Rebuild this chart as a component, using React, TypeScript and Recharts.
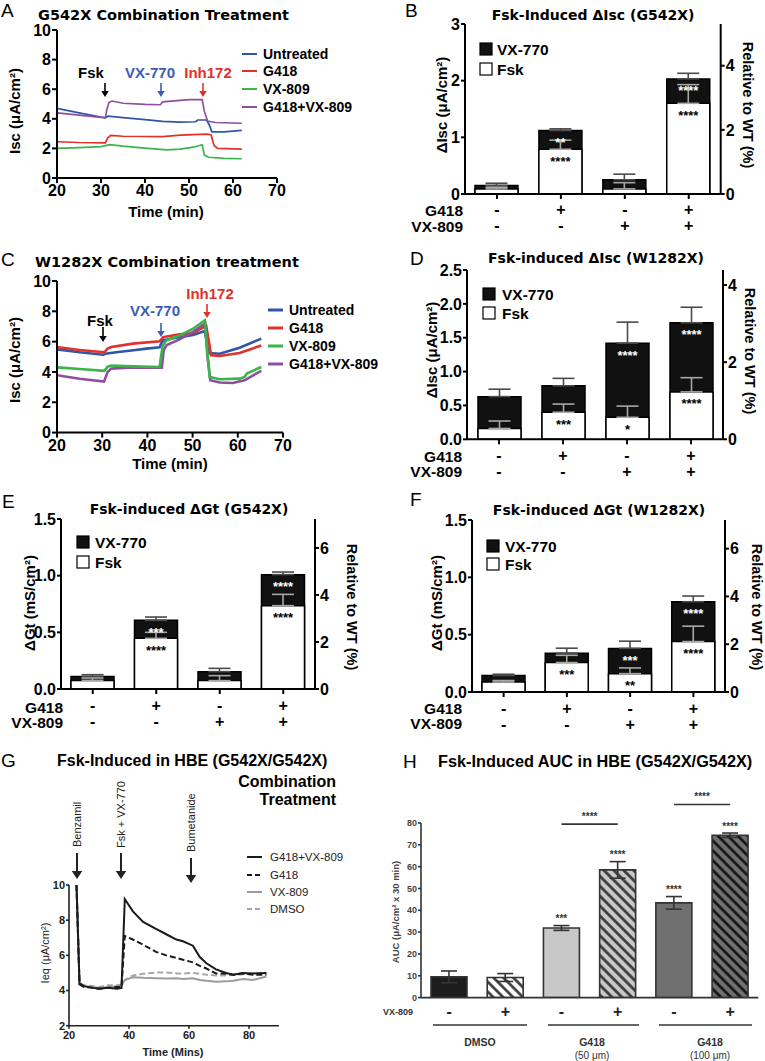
import React from 'react';
import {
  LineChart, Line, BarChart, Bar, XAxis, YAxis, ErrorBar, LabelList, Cell, ReferenceLine,
} from 'recharts';

const FONT = '"Liberation Sans", Arial, Helvetica, sans-serif';
const HEAVY = '"DejaVu Sans", Verdana, sans-serif';

const BLUE = '#2f56a9';
const RED = '#e2302b';
const GREEN = '#3bb44a';
const PURPLE = '#8e4f9e';

// ─── A: G542X combination treatment (Isc traces) ─────────────────────────────
const aUntreatedT = [20, 25, 30, 31, 31.6, 35, 40, 44, 48, 51.5, 52, 54, 54.6, 55.2, 58, 62];
const aUntreatedY = [4.7, 4.4, 4.12, 4.08, 4.18, 4.08, 3.95, 3.82, 3.78, 3.8, 3.92, 3.92, 3.6, 3.12, 3.12, 3.22];
const aG418T = [20, 25, 31, 31.5, 32.2, 35, 44, 48, 54, 55, 55.7, 56.5, 62];
const aG418Y = [2.45, 2.4, 2.38, 2.7, 2.88, 2.82, 2.8, 2.9, 2.97, 2.92, 2.2, 2.0, 1.95];
const aVx809T = [20, 25, 30, 32, 35, 40, 45, 48, 51, 53, 53.5, 54.5, 58, 62];
const aVx809Y = [2.0, 2.05, 2.12, 2.25, 2.15, 2.02, 1.9, 1.95, 2.08, 2.25, 1.55, 1.4, 1.32, 1.3];
const aComboT = [20, 25, 30, 31, 31.3, 31.8, 32.5, 35, 40, 43.5, 44, 46, 50, 53, 53.5, 54.2, 56, 62];
const aComboY = [4.4, 4.25, 4.1, 4.05, 4.6, 5.1, 5.2, 5.05, 4.97, 4.95, 5.15, 5.2, 5.3, 5.3, 4.5, 3.85, 3.75, 3.7];

// ─── C: W1282X combination treatment (Isc traces) ────────────────────────────
const cUntreatedT = [20, 25, 30.2, 30.7, 33.1, 36.5, 39.8, 42.7, 43.1, 43.5, 46.4, 50.1, 52.7, 53.1, 53.5, 56, 60.4, 65.2];
const cUntreatedY = [5.49, 5.3, 5.14, 5.2, 5.3, 5.42, 5.54, 5.63, 5.9, 6.1, 6.26, 6.44, 6.7, 6.0, 5.25, 5.2, 5.6, 6.2];
const cG418T = [20, 25, 30.5, 31.2, 32, 36.8, 42.7, 43.5, 47.1, 50.1, 51.8, 53, 53.5, 54.1, 56, 60.4, 65.2];
const cG418Y = [5.65, 5.45, 5.3, 5.55, 5.65, 5.87, 6.02, 6.3, 6.48, 6.55, 6.85, 7.05, 6.2, 5.1, 5.05, 5.25, 5.75];
const cVx809T = [20, 25, 30.5, 31.2, 32, 36.8, 42.7, 43.0, 43.4, 44.2, 47.1, 50.1, 52.7, 53.2, 53.8, 56, 60.4, 61.5, 62, 65.2];
const cVx809Y = [4.3, 4.2, 4.07, 4.35, 4.43, 4.37, 4.33, 5.0, 5.75, 6.08, 6.4, 6.85, 7.4, 5.5, 3.67, 3.52, 3.56, 3.67, 3.9, 4.33];
const cComboT = [20, 25, 30.4, 31.2, 32, 36.8, 43.2, 43.6, 44.2, 47.1, 50.1, 52.8, 53.3, 53.9, 56, 58.9, 61.5, 63.4, 65.2];
const cComboY = [3.78, 3.55, 3.36, 4.0, 4.22, 4.29, 4.28, 5.43, 5.76, 6.15, 6.64, 7.2, 5.0, 3.45, 3.3, 3.27, 3.45, 3.78, 4.07];

// ─── G: HBE traces (Ieq) ─────────────────────────────────────────────────────
const gT = [22.5, 23.5, 25, 28, 30, 33, 36, 37.5, 38.6, 41.3, 44.7, 49, 52.4, 55.8, 58, 61.3, 63.6, 65.8, 69, 72.4, 74.7, 78, 81.3, 85.8];
const gCombo = [10, 4.4, 4.25, 4.15, 4.1, 4.15, 4.1, 4.15, 9.2, 8.5, 7.9, 7.5, 7.2, 6.9, 6.8, 6.55, 5.9, 5.55, 5.2, 5.0, 4.9, 5.0, 4.97, 5.0];
const gG418 = [10, 4.35, 4.2, 4.15, 4.1, 4.15, 4.2, 4.2, 7.1, 6.9, 6.6, 6.2, 6.0, 5.85, 5.75, 5.6, 5.4, 5.25, 4.97, 4.95, 4.9, 4.97, 4.9, 4.9];
const gVx809 = [10, 4.4, 4.25, 4.2, 4.15, 4.2, 4.25, 4.3, 4.6, 4.75, 4.72, 4.7, 4.68, 4.7, 4.65, 4.7, 4.6, 4.55, 4.5, 4.52, 4.55, 4.65, 4.6, 4.8];
const gDmso = [10, 4.45, 4.3, 4.25, 4.2, 4.3, 4.3, 4.35, 4.6, 4.85, 4.95, 5.02, 5.02, 4.97, 4.97, 5.0, 4.95, 4.9, 4.85, 4.85, 4.88, 4.92, 4.95, 5.0];

// ─── B/D/E/F: stacked Fsk + VX-770 responses ─────────────────────────────────
const g418Signs = ['-', '+', '-', '+'];
const vx809Signs = ['-', '-', '+', '+'];

const bFsk = [0.09, 0.79, 0.09, 1.60];
const bTotal = [0.15, 1.12, 0.25, 2.03];
const bFskSem = [0.03, 0.16, 0.11, 0.33];
const bTotalSem = [0.04, 0.03, 0.10, 0.10];
const bFskStars = ['', '****', '', '****'];
const bTotalStars = ['', '**', '', '****'];

const dFsk = [0.16, 0.40, 0.325, 0.70];
const dTotal = [0.63, 0.79, 1.42, 1.72];
const dFskSem = [0.11, 0.12, 0.165, 0.21];
const dTotalSem = [0.11, 0.11, 0.31, 0.23];
const dFskStars = ['', '***', '*', '****'];
const dTotalStars = ['', '', '****', '****'];

const eFsk = [0.076, 0.447, 0.074, 0.735];
const eTotal = [0.11, 0.606, 0.153, 1.009];
const eFskSem = [0.021, 0.053, 0.044, 0.10];
const eTotalSem = [0.016, 0.029, 0.029, 0.023];
const eFskStars = ['', '****', '', '****'];
const eTotalStars = ['', '***', '', '****'];

const fFsk = [0.087, 0.257, 0.16, 0.44];
const fTotal = [0.143, 0.338, 0.38, 0.787];
const fFskSem = [0.013, 0.063, 0.05, 0.134];
const fTotalSem = [0.012, 0.044, 0.063, 0.05];
const fFskStars = ['', '***', '**', '****'];
const fTotalStars = ['', '', '***', '****'];

// ─── H: AUC in HBE ───────────────────────────────────────────────────────────
const hKeys = ['dmso-', 'dmso+', 'g50-', 'g50+', 'g100-', 'g100+'];
const hVx809 = ['-', '+', '-', '+', '-', '+'];
const hAuc = [9.5, 9.2, 31.9, 58.5, 43.4, 74.4];
const hSem = [2.7, 1.8, 1.1, 3.8, 2.9, 1.0];
const hStars = ['', '', '***', '****', '****', '****'];
const hBracketY = [79.5, 88.5];
const hFills = ['#1d1d1d', 'url(#hatchW)', '#c8c8c8', 'url(#hatchL)', '#707070', 'url(#hatchD)'];

// ─── layout helpers ──────────────────────────────────────────────────────────

type Box = { x0: number; y0: number; x1: number; y1: number };
const PL = 60, PR = 60, PT = 45, PB = 50, YW = 40, XH = 30;

function frame(b: Box, right: boolean) {
  return {
    style: { position: 'absolute' as const, left: b.x0 - PL, top: b.y0 - PT },
    width: b.x1 - b.x0 + PL + PR,
    height: b.y1 - b.y0 + PT + PB,
    margin: { top: PT, right: right ? PR - YW : PR, bottom: PB - XH, left: PL - YW },
  };
}

const AX = { stroke: '#000', strokeWidth: 2 };
const TICK = { fontSize: 16, fontWeight: 700, fill: '#000' };

const pts = (t: number[], y: number[]) => t.map((v, i) => ({ t: v, y: y[i] }));

interface Series { data: { t: number; y: number }[]; color: string; dash?: string; w?: number }

function TraceChart({ box, xDomain, xTicks, yDomain, yTicks, series, lw, small }: {
  box: Box; xDomain: number[]; xTicks: number[]; yDomain: number[]; yTicks: number[];
  series: Series[]; lw: number; small?: boolean;
}) {
  const f = frame(box, false);
  const ax = small ? { stroke: '#222', strokeWidth: 1.6 } : AX;
  const tk = small ? { fontSize: 11, fontWeight: 700, fill: '#222' } : TICK;
  return (
    <div style={f.style}>
      <LineChart width={f.width} height={f.height} margin={f.margin}>
        <XAxis type="number" dataKey="t" domain={xDomain} ticks={xTicks} allowDataOverflow height={XH}
          axisLine={ax} tickLine={ax} tick={tk} tickSize={small ? 3 : 5} tickMargin={small ? 3 : 2} />
        <YAxis type="number" domain={yDomain} ticks={yTicks} allowDataOverflow width={YW}
          axisLine={ax} tickLine={ax} tick={tk} tickSize={small ? 3 : 5} tickMargin={1} />
        {series.map((s, i) => (
          <Line key={i} data={s.data} dataKey="y" type="linear" stroke={s.color} strokeWidth={s.w ?? lw}
            strokeDasharray={s.dash} dot={false} activeDot={false} isAnimationActive={false} />
        ))}
      </LineChart>
    </div>
  );
}

const signTick = (rows: string[][], dys: number[], size: number, fill: string) => (p: any) => {
  const i = Number(p.payload?.index ?? 0);
  return (
    <g>
      {rows.map((r, k) => (
        <text key={k} x={p.x} y={p.y + dys[k]} textAnchor="middle" dominantBaseline="central"
          fontSize={size} fontWeight={700} fill={fill}>{r[i]}</text>
      ))}
    </g>
  );
};

const starLabel = (fill: string, dy: number) => (p: any) => {
  const vb = p.viewBox ?? p;
  const x = vb.x ?? p.x, y = vb.y ?? p.y, w = vb.width ?? p.width;
  if (!p.value) return null;
  return (
    <text x={x + w / 2} y={y + dy} textAnchor="middle" dominantBaseline="central"
      fontSize={13} fontWeight={700} fill={fill}>{p.value}</text>
  );
};

function StackBars({ box, yDomain, yTicks, digits, rDomain, rTicks, fsk, total, fskSem, totalSem, fskStars, totalStars }: {
  box: Box; yDomain: number[]; yTicks: number[]; digits: number; rDomain: number[]; rTicks: number[];
  fsk: number[]; total: number[]; fskSem: number[]; totalSem: number[]; fskStars: string[]; totalStars: string[];
}) {
  const f = frame(box, true);
  const data = fsk.map((v, i) => ({
    k: String(i), fsk: v, total: total[i],
    fskE: [0, fskSem[i]], totE: [0, totalSem[i]],
    fs: fskStars[i], ts: totalStars[i],
  }));
  return (
    <div style={f.style}>
      <BarChart width={f.width} height={f.height} margin={f.margin} data={data} barSize={43} barGap={-43}>
        <XAxis dataKey="k" height={XH} axisLine={AX} tickLine={AX} tickSize={5} tickMargin={2}
          tick={signTick([g418Signs, vx809Signs], [9, 25], 16, '#000')} interval={0} />
        <YAxis yAxisId="l" type="number" domain={yDomain} ticks={yTicks} width={YW} allowDataOverflow
          tickFormatter={(v: number) => v.toFixed(digits)} axisLine={AX} tickLine={AX} tick={TICK} tickSize={4} tickMargin={1} />
        <YAxis yAxisId="r" orientation="right" type="number" domain={rDomain} ticks={rTicks} width={YW} allowDataOverflow
          axisLine={AX} tickLine={AX} tick={TICK} tickSize={4} tickMargin={1} />
        <Bar yAxisId="l" dataKey="total" fill="#111" stroke="#000" strokeWidth={1.5} isAnimationActive={false}>
          <ErrorBar dataKey="totE" width={11} stroke="#4a4a4a" strokeWidth={1.6} direction="y" />
          <LabelList dataKey="ts" content={starLabel('#fff', 12)} />
        </Bar>
        <Bar yAxisId="l" dataKey="fsk" fill="#fff" stroke="#000" strokeWidth={1.5} isAnimationActive={false}>
          <ErrorBar dataKey="fskE" width={11} stroke="#a8a8a8" strokeWidth={1.6} direction="y" />
          <LabelList dataKey="fs" content={starLabel('#000', 12)} />
        </Bar>
      </BarChart>
    </div>
  );
}

function AucBars({ box }: { box: Box }) {
  const f = frame(box, false);
  const data = hKeys.map((k, i) => ({ k, auc: hAuc[i], e: hSem[i], s: hStars[i] }));
  const ax = { stroke: '#333', strokeWidth: 1.6 };
  const hatch = (id: string, bg: string, fg: string) => (
    <pattern id={id} width={7} height={7} patternUnits="userSpaceOnUse" patternTransform="rotate(-45)">
      <rect width={7} height={7} fill={bg} />
      <line x1={1.5} y1={0} x2={1.5} y2={7} stroke={fg} strokeWidth={2.6} />
    </pattern>
  );
  const aucStar = (p: any) => {
    const vb = p.viewBox ?? p;
    const x = vb.x ?? p.x, y = vb.y ?? p.y, w = vb.width ?? p.width, h = vb.height ?? p.height;
    const i = p.index;
    if (!hStars[i]) return null;
    const top = y - hSem[i] * (h / hAuc[i]);
    return (
      <text x={x + w / 2} y={top - 7} textAnchor="middle" dominantBaseline="central"
        fontSize={10} fontWeight={700} fill="#333">{hStars[i]}</text>
    );
  };
  const bracket = (a: string, b: string, y: number) => (
    <ReferenceLine segment={[{ x: a, y }, { x: b, y }]} stroke="#333" strokeWidth={1.6} ifOverflow="visible"
      label={{ value: '****', position: 'top', fill: '#333', fontSize: 10, fontWeight: 700, offset: 4 }} />
  );
  return (
    <div style={f.style}>
      <BarChart width={f.width} height={f.height} margin={f.margin} data={data} barSize={36}>
        <defs>
          {hatch('hatchW', '#fff', '#333')}
          {hatch('hatchL', '#c8c8c8', '#333')}
          {hatch('hatchD', '#707070', '#111')}
        </defs>
        <XAxis dataKey="k" height={XH} axisLine={ax} tickLine={false} tickSize={4} tickMargin={2}
          tick={signTick([hVx809], [8], 16, '#222')} interval={0} />
        <YAxis type="number" domain={[0, 80]} ticks={[0, 10, 20, 30, 40, 50, 60, 70, 80]} width={YW}
          allowDataOverflow axisLine={ax} tickLine={ax} tickSize={3} tickMargin={1}
          tick={{ fontSize: 9, fontWeight: 700, fill: '#444' }} />
        <Bar dataKey="auc" stroke="#333" strokeWidth={1.6} isAnimationActive={false}>
          {data.map((d, i) => <Cell key={d.k} fill={hFills[i]} />)}
          <ErrorBar dataKey="e" width={8} stroke="#333" strokeWidth={1.6} direction="y" />
          <LabelList dataKey="s" content={aucStar} />
        </Bar>
        {bracket('g50-', 'g50+', hBracketY[0])}
        {bracket('g100-', 'g100+', hBracketY[1])}
      </BarChart>
    </div>
  );
}

// ─── overlay text helpers ────────────────────────────────────────────────────

function T({ x, y, children, size = 15, weight = 700, anchor = 'start', rot = 0, fill = '#000', family = FONT }: any) {
  return (
    <text x={x} y={y} fontSize={size} fontWeight={weight} textAnchor={anchor} fill={fill} fontFamily={family}
      dominantBaseline="central" transform={rot ? `rotate(${rot} ${x} ${y})` : undefined}>{children}</text>
  );
}

function Arrow({ x, y1, y2, color = '#000', w = 1.6, head = 5 }: any) {
  return (
    <g>
      <line x1={x} y1={y1} x2={x} y2={y2 - head} stroke={color} strokeWidth={w} />
      <polygon points={`${x - head * 0.75},${y2 - head - 1} ${x + head * 0.75},${y2 - head - 1} ${x},${y2}`} fill={color} />
    </g>
  );
}

function LineLegend({ x, ys, items, lw, size, weight = 700, fill = '#000', len = 15, gap = 6 }: any) {
  return (
    <g>
      {items.map((it: any, i: number) => (
        <g key={i}>
          <line x1={x} x2={x + len} y1={ys[i]} y2={ys[i]} stroke={it.color} strokeWidth={lw} strokeDasharray={it.dash} />
          <T x={x + len + gap} y={ys[i]} size={size} weight={weight} fill={fill}>{it.label}</T>
        </g>
      ))}
    </g>
  );
}

function BoxLegend({ x, y1, y2, tx }: any) {
  return (
    <g>
      <rect x={x} y={y1 - 6} width={12} height={12} fill="#111" stroke="#000" strokeWidth={1.2} />
      <rect x={x} y={y2 - 6} width={12} height={12} fill="#fff" stroke="#000" strokeWidth={1.2} />
      <T x={tx} y={y1} size={15.5}>VX-770</T>
      <T x={tx} y={y2} size={15.5}>Fsk</T>
    </g>
  );
}

const A_BOX: Box = { x0: 57, y0: 30, x1: 277, y1: 178 };
const B_BOX: Box = { x0: 465, y0: 24, x1: 720.7, y1: 194 };
const C_BOX: Box = { x0: 57.3, y0: 280.7, x1: 283.3, y1: 432.3 };
const D_BOX: Box = { x0: 467, y0: 270, x1: 723, y1: 439.3 };
const E_BOX: Box = { x0: 61, y0: 519.3, x1: 315, y1: 689.3 };
const F_BOX: Box = { x0: 472, y0: 519.7, x1: 725, y1: 691.7 };
const G_BOX: Box = { x0: 69.3, y0: 885, x1: 279.3, y1: 1025.7 };
const H_BOX: Box = { x0: 420.7, y0: 822.7, x1: 758, y1: 997.3 };

const traceLegend = [
  { label: 'Untreated', color: BLUE },
  { label: 'G418', color: RED },
  { label: 'VX-809', color: GREEN },
  { label: 'G418+VX-809', color: PURPLE },
];
const hbeLegend = [
  { label: 'G418+VX-809', color: '#1a1a1a' },
  { label: 'G418', color: '#1a1a1a', dash: '5 3' },
  { label: 'VX-809', color: '#9c9c9c' },
  { label: 'DMSO', color: '#a8a8a8', dash: '5 3' },
];

export default function App() {
  return (
    <div style={{ position: 'absolute', left: 0, top: 0, width: 765, height: 1061, background: '#fff', fontFamily: FONT, overflow: 'hidden' }}>
      <TraceChart box={A_BOX} xDomain={[20, 70]} xTicks={[20, 30, 40, 50, 60, 70]} yDomain={[0, 10]} yTicks={[0, 2, 4, 6, 8, 10]} lw={1.7}
        series={[
          { data: pts(aUntreatedT, aUntreatedY), color: BLUE },
          { data: pts(aG418T, aG418Y), color: RED },
          { data: pts(aVx809T, aVx809Y), color: GREEN },
          { data: pts(aComboT, aComboY), color: PURPLE },
        ]} />
      <TraceChart box={C_BOX} xDomain={[20, 70]} xTicks={[20, 30, 40, 50, 60, 70]} yDomain={[0, 10]} yTicks={[0, 2, 4, 6, 8, 10]} lw={2.6}
        series={[
          { data: pts(cUntreatedT, cUntreatedY), color: BLUE },
          { data: pts(cG418T, cG418Y), color: RED },
          { data: pts(cComboT, cComboY), color: PURPLE },
          { data: pts(cVx809T, cVx809Y), color: GREEN },
        ]} />
      <TraceChart box={G_BOX} xDomain={[20, 90]} xTicks={[20, 40, 60, 80]} yDomain={[2, 10]} yTicks={[2, 4, 6, 8, 10]} lw={2} small
        series={[
          { data: pts(gT, gDmso), color: '#a8a8a8', dash: '6 3' },
          { data: pts(gT, gVx809), color: '#9c9c9c' },
          { data: pts(gT, gG418), color: '#1a1a1a', dash: '6 3' },
          { data: pts(gT, gCombo), color: '#1a1a1a' },
        ]} />

      <StackBars box={B_BOX} yDomain={[0, 3]} yTicks={[0, 1, 2, 3]} digits={0} rDomain={[0, 5.3]} rTicks={[0, 2, 4]}
        fsk={bFsk} total={bTotal} fskSem={bFskSem} totalSem={bTotalSem} fskStars={bFskStars} totalStars={bTotalStars} />
      <StackBars box={D_BOX} yDomain={[0, 2.5]} yTicks={[0, 0.5, 1, 1.5, 2, 2.5]} digits={1} rDomain={[0, 4.39]} rTicks={[0, 2, 4]}
        fsk={dFsk} total={dTotal} fskSem={dFskSem} totalSem={dTotalSem} fskStars={dFskStars} totalStars={dTotalStars} />
      <StackBars box={E_BOX} yDomain={[0, 1.5]} yTicks={[0, 0.5, 1, 1.5]} digits={1} rDomain={[0, 7.23]} rTicks={[0, 2, 4, 6]}
        fsk={eFsk} total={eTotal} fskSem={eFskSem} totalSem={eTotalSem} fskStars={eFskStars} totalStars={eTotalStars} />
      <StackBars box={F_BOX} yDomain={[0, 1.5]} yTicks={[0, 0.5, 1, 1.5]} digits={1} rDomain={[0, 7.2]} rTicks={[0, 2, 4, 6]}
        fsk={fFsk} total={fTotal} fskSem={fFskSem} totalSem={fTotalSem} fskStars={fFskStars} totalStars={fTotalStars} />

      <AucBars box={H_BOX} />

      <svg width={765} height={1061} style={{ position: 'absolute', left: 0, top: 0, pointerEvents: 'none' }}>
        {/* panel letters */}
        <T x={1} y={10} size={19} weight={400}>A</T>
        <T x={405} y={10} size={19} weight={400}>B</T>
        <T x={1} y={259} size={19} weight={400}>C</T>
        <T x={410} y={258} size={19} weight={400}>D</T>
        <T x={2} y={501} size={19} weight={400}>E</T>
        <T x={410} y={499} size={19} weight={400}>F</T>
        <T x={1} y={760} size={19} weight={400}>G</T>
        <T x={403} y={761} size={19} weight={400}>H</T>

        {/* titles */}
        <T x={38} y={15} size={14.5} family={HEAVY}>G542X Combination Treatment</T>
        <T x={593} y={15} size={14} anchor="middle" family={HEAVY}>Fsk-Induced ΔIsc (G542X)</T>
        <T x={35} y={262} size={14.5} family={HEAVY}>W1282X Combination treatment</T>
        <T x={596} y={258} size={14} anchor="middle" family={HEAVY}>Fsk-induced ΔIsc (W1282X)</T>
        <T x={189} y={509} size={14} anchor="middle" family={HEAVY}>Fsk-induced ΔGt (G542X)</T>
        <T x={599} y={510} size={14} anchor="middle" family={HEAVY}>Fsk-induced ΔGt (W1282X)</T>
        <T x={57} y={760} size={16}>Fsk-Induced in HBE (G542X/G542X)</T>
        <T x={336} y={781} size={16} anchor="end">Combination</T>
        <T x={336} y={799} size={16} anchor="end">Treatment</T>
        <T x={438} y={761} size={16.3}>Fsk-Induced AUC in HBE (G542X/G542X)</T>

        {/* A annotations & legend */}
        <T x={91} y={72} size={15} anchor="middle">Fsk</T>
        <T x={150} y={72} size={15} anchor="middle" fill="#3a5db2">VX-770</T>
        <T x={208} y={72} size={15} anchor="middle" fill={RED}>Inh172</T>
        <Arrow x={105} y1={83} y2={97} />
        <Arrow x={161} y1={83} y2={97} color="#3a5db2" />
        <Arrow x={203} y1={83} y2={97} color={RED} />
        <LineLegend x={242} ys={[54, 71, 89, 107]} items={traceLegend} lw={2} size={14} />
        <T x={14} y={111} size={15} anchor="middle" rot={-90}>Isc (μA/cm²)</T>
        <T x={166} y={211} size={15} anchor="middle">Time (min)</T>

        {/* C annotations & legend */}
        <T x={100} y={320} size={15} anchor="middle">Fsk</T>
        <T x={155} y={310} size={15} anchor="middle" fill="#3a5db2">VX-770</T>
        <T x={210} y={293} size={15} anchor="middle" fill={RED}>Inh172</T>
        <Arrow x={103} y1={327} y2={342} />
        <Arrow x={161} y1={323} y2={337} color="#3a5db2" />
        <Arrow x={207} y1={304} y2={318} color={RED} />
        <LineLegend x={268} ys={[310, 328, 346, 364]} items={traceLegend} lw={3} size={14} />
        <T x={14} y={360} size={15} anchor="middle" rot={-90}>Isc (μA/cm²)</T>
        <T x={170} y={463} size={15} anchor="middle">Time (min)</T>

        {/* B */}
        <BoxLegend x={480} y1={49} y2={69} tx={497} />
        <T x={441} y={105} size={15} anchor="middle" rot={-90}>ΔIsc (μA/cm²)</T>
        <T x={748} y={105} size={14.5} anchor="middle" rot={90}>Relative to WT (%)</T>
        <T x={463} y={210} size={15.5} anchor="end">G418</T>
        <T x={463} y={226} size={15.5} anchor="end">VX-809</T>

        {/* D */}
        <BoxLegend x={483} y1={294} y2={313} tx={502} />
        <T x={431} y={350} size={15} anchor="middle" rot={-90}>ΔIsc (μA/cm²)</T>
        <T x={750} y={351} size={14.5} anchor="middle" rot={90}>Relative to WT (%)</T>
        <T x={462} y={456} size={15.5} anchor="end">G418</T>
        <T x={462} y={471} size={15.5} anchor="end">VX-809</T>

        {/* E */}
        <BoxLegend x={77} y1={542} y2={562} tx={95} />
        <T x={29} y={603} size={15} anchor="middle" rot={-90}>ΔGt (mS/cm²)</T>
        <T x={352} y={607} size={14.5} anchor="middle" rot={90}>Relative to WT (%)</T>
        <T x={63} y={707} size={15.5} anchor="end">G418</T>
        <T x={63} y={722} size={15.5} anchor="end">VX-809</T>

        {/* F */}
        <BoxLegend x={487} y1={546} y2={564} tx={505} />
        <T x={436} y={603} size={15} anchor="middle" rot={-90}>ΔGt (mS/cm²)</T>
        <T x={757} y={607} size={14.5} anchor="middle" rot={90}>Relative to WT (%)</T>
        <T x={462} y={708} size={15.5} anchor="end">G418</T>
        <T x={462} y={723} size={15.5} anchor="end">VX-809</T>

        {/* G */}
        <T x={77} y={847} size={11} weight={400} fill="#222" rot={-90}>Benzamil</T>
        <T x={121} y={848} size={11} weight={400} fill="#222" rot={-90}>Fsk + VX-770</T>
        <T x={191} y={852} size={11} weight={400} fill="#222" rot={-90}>Bumetanide</T>
        <Arrow x={77} y1={853} y2={879} w={2} head={7} color="#222" />
        <Arrow x={121} y1={853} y2={879} w={2} head={7} color="#222" />
        <Arrow x={191} y1={858} y2={883} w={2} head={7} color="#222" />
        <LineLegend x={247} ys={[857, 875, 892, 909]} items={hbeLegend} lw={2} size={11.5} weight={400} fill="#222" len={15} gap={8} />
        <T x={45} y={953} size={11} weight={400} fill="#222" anchor="middle" rot={-90}>Ieq (μA/cm²)</T>
        <T x={173} y={1052} size={11} fill="#222" anchor="middle">Time (Mins)</T>

        {/* H */}
        <T x={395} y={912} size={9.5} fill="#444" anchor="middle" rot={-90}>AUC (μA/cm² x 30 min)</T>
        <T x={413} y={1012} size={9} fill="#333" anchor="end">VX-809</T>
        <line x1={433} x2={527} y1={1025} y2={1025} stroke="#333" strokeWidth={1.4} />
        <line x1={548} x2={639} y1={1025} y2={1025} stroke="#333" strokeWidth={1.4} />
        <line x1={659} x2={752} y1={1025} y2={1025} stroke="#333" strokeWidth={1.4} />
        <T x={480} y={1042} size={10.5} fill="#333" anchor="middle">DMSO</T>
        <T x={592} y={1042} size={10.5} fill="#333" anchor="middle">G418</T>
        <T x={592} y={1055} size={10} weight={400} fill="#333" anchor="middle">(50 μm)</T>
        <T x={710} y={1042} size={10.5} fill="#333" anchor="middle">G418</T>
        <T x={710} y={1055} size={10} weight={400} fill="#333" anchor="middle">(100 μm)</T>
      </svg>
    </div>
  );
}
